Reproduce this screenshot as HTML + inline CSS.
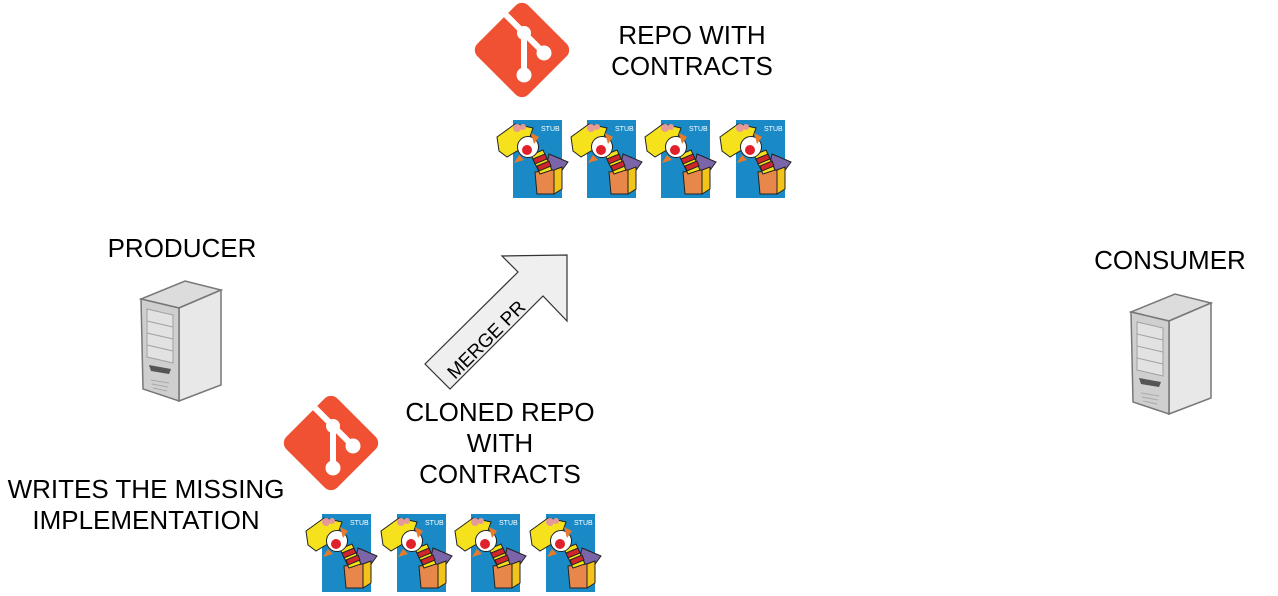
<!DOCTYPE html>
<html><head><meta charset="utf-8"><style>
html,body{margin:0;padding:0;background:#fff;}
svg{display:block;}
text{font-family:"Liberation Sans",sans-serif;}
</style></head><body>
<svg width="1278" height="596" viewBox="0 0 1278 596" xmlns="http://www.w3.org/2000/svg">
<defs>
<symbol id="git" viewBox="0 0 100 100">
  <rect x="14" y="14" width="72" height="72" rx="9" fill="#f05133" transform="rotate(45 50 50)"/>
  <g stroke="#fff" stroke-width="6" fill="none">
    <line x1="34" y1="15" x2="52" y2="33"/>
    <line x1="52" y1="33" x2="52" y2="75"/>
    <line x1="52" y1="33" x2="72" y2="53"/>
  </g>
  <circle cx="52" cy="33" r="7" fill="#fff"/>
  <circle cx="72" cy="53" r="7.5" fill="#fff"/>
  <circle cx="52" cy="75" r="7.5" fill="#fff"/>
</symbol>
<symbol id="stub" viewBox="0 0 80 85">
  <rect x="18" y="5" width="49" height="78" fill="#1a8ac6"/>
  <polygon points="54,39 73,47 65,58 51,53" fill="#7b65a8" stroke="#222" stroke-width="1"/>
  <polygon points="40,57 59,55 59,79 42,79" fill="#e8874a" stroke="#222" stroke-width="1"/>
  <polygon points="59,55 67,52 67,74 59,79" fill="#f2c318" stroke="#222" stroke-width="1"/>
  <g stroke="#222" stroke-width="1">
    <polygon points="36,40 48,35 57,55 45,59" fill="#f2e01a"/>
    <polygon points="38,44 50,39 52,44 40,49" fill="#d0252a"/>
    <polygon points="42,51 54,46 56,51 44,56" fill="#d0252a"/>
    <polygon points="2,22 20,9 38,13 32,30 12,42 4,36" fill="#f5e21c"/>
    <circle cx="33" cy="32" r="10.5" fill="#fff"/>
  </g>
  <circle cx="32" cy="35" r="5" fill="#e0202a"/>
  <circle cx="22" cy="13" r="4" fill="#e59a9a"/>
  <circle cx="28" cy="12" r="3" fill="#e59a9a"/>
  <path d="M36,18 L44,22 L39,29 Z" fill="#e87a2a"/>
  <path d="M24,40 L19,48 L29,45 Z" fill="#e87a2a"/>
</symbol>
<symbol id="server" viewBox="0 0 84 124">
  <polygon points="2,20 40,29 82,11 46,2" fill="#dcdcdc" stroke="#777" stroke-width="1.5"/>
  <polygon points="40,29 82,11 82,106 40,122" fill="#e8e8e8" stroke="#777" stroke-width="1.5"/>
  <polygon points="2,20 40,29 40,122 4,110" fill="#cfcfcf" stroke="#777" stroke-width="1.5"/>
  <polygon points="8,30 34,36 34,84 8,78" fill="#e2e2e2" stroke="#a0a0a0"/>
  <g stroke="#a0a0a0"><line x1="8" y1="42" x2="34" y2="48"/><line x1="8" y1="54" x2="34" y2="60"/><line x1="8" y1="66" x2="34" y2="72"/></g>
  <polygon points="10,86 32,90 30,95 12,92" fill="#555"/>
  <g stroke="#aaa"><line x1="12" y1="101" x2="30" y2="104"/><line x1="13" y1="105" x2="29" y2="108"/><line x1="14" y1="109" x2="28" y2="112"/></g>
</symbol>
</defs>

<use href="#git" x="472" y="0" width="100" height="100"/>
<use href="#git" x="281" y="393" width="100" height="100"/>

<g>
<use href="#stub" x="495" y="115" width="80" height="85"/>
<use href="#stub" x="569" y="115" width="80" height="85"/>
<use href="#stub" x="643" y="115" width="80" height="85"/>
<use href="#stub" x="718" y="115" width="80" height="85"/>
<use href="#stub" x="304" y="509" width="80" height="85"/>
<use href="#stub" x="379" y="509" width="80" height="85"/>
<use href="#stub" x="453" y="509" width="80" height="85"/>
<use href="#stub" x="528" y="509" width="80" height="85"/>
</g>
<g fill="#fff" font-size="7">
<text x="541" y="131">STUB</text><text x="615" y="131">STUB</text><text x="689" y="131">STUB</text><text x="764" y="131">STUB</text>
<text x="350" y="525">STUB</text><text x="425" y="525">STUB</text><text x="499" y="525">STUB</text><text x="574" y="525">STUB</text>
</g>

<use href="#server" x="139" y="279" width="84" height="124"/>
<use href="#server" x="1129" y="292" width="84" height="124"/>

<polygon points="567,255 502,256 518,272 425,364 450,389 543,296 567,321" fill="#efefef" stroke="#333" stroke-width="1.2"/>
<text x="0" y="0" font-size="19" transform="translate(455,380) rotate(-45)">MERGE PR</text>

<g font-size="26" fill="#000" text-anchor="middle">
<text x="692" y="44">REPO WITH</text>
<text x="692" y="75">CONTRACTS</text>
<text x="182" y="257">PRODUCER</text>
<text x="1170" y="269">CONSUMER</text>
<text x="500" y="421">CLONED REPO</text>
<text x="500" y="452">WITH</text>
<text x="500" y="483">CONTRACTS</text>
<text x="146" y="498">WRITES THE MISSING</text>
<text x="146" y="529">IMPLEMENTATION</text>
</g>
</svg>
</body></html>
